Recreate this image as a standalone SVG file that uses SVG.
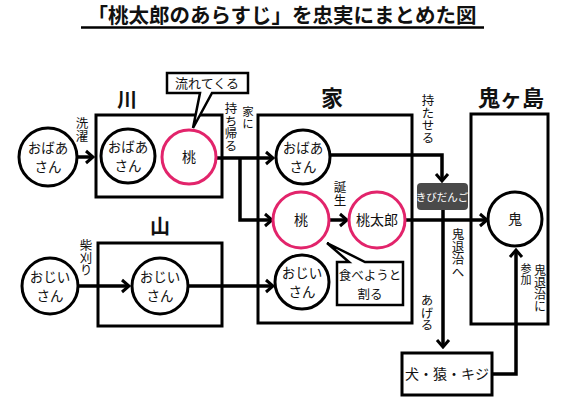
<svg xmlns="http://www.w3.org/2000/svg" width="581" height="415" viewBox="0 0 581 415">
<style>
text{font-family:"Noto Sans CJK JP","Noto Sans",sans-serif;fill:#111;text-anchor:middle}
.t{font-size:13px}
.v{font-size:12.5px;writing-mode:vertical-rl;text-anchor:start}
.c{font-size:14px}
.c2{font-size:13.5px}
.lb{font-size:20px;font-weight:700}
.box{fill:#fff;stroke:#000;stroke-width:3}
.circ{fill:#fff;stroke:#000;stroke-width:3}
.pink{fill:#fff;stroke:#e2246b;stroke-width:3}
.ln{fill:none;stroke:#000;stroke-width:3.5;stroke-linejoin:miter}
.arr{marker-end:url(#ah)}
</style>
<defs>
<marker id="ah" viewBox="-10 -8 12 16" refX="0" refY="0" markerWidth="12" markerHeight="16" markerUnits="userSpaceOnUse" orient="auto">
<path d="M-7,-6 L0,0 L-7,6" fill="none" stroke="#000" stroke-width="3"/>
</marker>
</defs>
<rect width="581" height="415" fill="#fff"/>

<g id="title">
<text x="282" y="23" style="font-size:20.5px;font-weight:700">「桃太郎のあらすじ」を忠実にまとめた図</text>
<line x1="81" y1="27.5" x2="484" y2="27.5" stroke="#000" stroke-width="2.5"/>
</g>

<g id="kawa">
<rect class="box" x="96" y="115" width="126" height="82"/>
<text class="lb" x="127" y="107">川</text>
</g>
<g id="yama">
<rect class="box" x="98" y="243" width="124" height="83"/>
<text class="lb" x="160" y="234">山</text>
</g>
<g id="ie">
<rect class="box" x="258" y="115" width="154" height="208"/>
<text class="lb" x="332" y="106" style="font-size:22px">家</text>
</g>
<g id="onigashima">
<rect class="box" x="471" y="114" width="77" height="210"/>
<text class="lb" x="511" y="106" style="font-size:22px">鬼ヶ島</text>
</g>

<g id="connectors">
<line class="ln arr" x1="78" y1="157" x2="93" y2="157"/>
<line class="ln arr" x1="78" y1="286" x2="129" y2="286"/>
<line class="ln arr" x1="216" y1="158" x2="273" y2="158"/>
<polyline class="ln arr" points="240,158 240,220 272,220"/>
<line class="ln arr" x1="188" y1="286" x2="273" y2="286"/>
<line class="ln arr" x1="329" y1="220" x2="347" y2="220"/>
<polyline class="ln arr" points="330,155 442,155 442,181"/>
<line class="ln arr" x1="405" y1="220" x2="487" y2="220"/>
<line class="ln arr" x1="443" y1="210" x2="443" y2="347"/>
<polyline class="ln arr" points="492,374 516,374 516,250"/>
</g>

<g id="labels">
<text class="v" x="82" y="117">洗濯</text>
<text class="v" x="231" y="102">持ち帰る</text>
<text class="v" x="248" y="106" style="font-size:11.5px">家に</text>
<text class="v" x="86" y="239">柴刈り</text>
<text class="v" x="428" y="94">持たせる</text>
<text class="v" x="340" y="181">誕生</text>
<text class="v" x="458" y="228">鬼退治へ</text>
<text class="v" x="427" y="294">あげる</text>
<text class="v" x="526" y="263" style="font-size:11px">参加</text>
<text class="v" x="540" y="264" style="font-size:12px">鬼退治に</text>
</g>

<g id="obaasan-start">
<circle class="circ" cx="48" cy="157" r="29"/>
<text class="c2" x="48" y="153">おばあ</text>
<text class="c2" x="48" y="172">さん</text>
</g>
<g id="obaasan-kawa">
<circle class="circ" cx="128" cy="156" r="27"/>
<text class="c2" x="128" y="152">おばあ</text>
<text class="c2" x="128" y="171">さん</text>
</g>
<g id="momo-kawa">
<circle class="pink" cx="189" cy="157" r="27"/>
<text class="c" x="189" y="162">桃</text>
</g>
<g id="bubble-nagarete">
<path d="M167,73 H248 V93 H212 L193,128 L200,93 H167 Z" fill="#fff" stroke="#000" stroke-width="2.5" stroke-linejoin="miter"/>
<text class="t" x="207" y="88">流れてくる</text>
</g>
<g id="ojiisan-start">
<circle class="circ" cx="50" cy="286" r="28"/>
<text class="c2" x="50" y="282">おじい</text>
<text class="c2" x="50" y="301">さん</text>
</g>
<g id="ojiisan-yama">
<circle class="circ" cx="160" cy="286" r="28"/>
<text class="c2" x="160" y="282">おじい</text>
<text class="c2" x="160" y="301">さん</text>
</g>
<g id="obaasan-ie">
<circle class="circ" cx="303" cy="157" r="27"/>
<text class="c2" x="303" y="153">おばあ</text>
<text class="c2" x="303" y="172">さん</text>
</g>
<g id="momo-ie">
<circle class="pink" cx="301" cy="220" r="28"/>
<text class="c" x="301" y="225">桃</text>
</g>
<g id="momotaro">
<circle class="pink" cx="377" cy="220" r="28"/>
<text class="c" x="377" y="225">桃太郎</text>
</g>
<g id="ojiisan-ie">
<circle class="circ" cx="302" cy="282" r="27"/>
<text class="c2" x="302" y="278">おじい</text>
<text class="c2" x="302" y="297">さん</text>
</g>
<g id="bubble-taberu">
<path d="M337,262 H349 L327,243 L365,262 H403 V305 H337 Z" fill="#fff" stroke="#000" stroke-width="2.5" stroke-linejoin="miter"/>
<text x="370" y="280" style="font-size:12.5px">食べようと</text>
<text x="370" y="299" style="font-size:12.5px">割る</text>
</g>
<g id="kibidango">
<rect x="417" y="183" width="51" height="27" rx="4" fill="#4a4a4a"/>
<text x="442" y="201" style="font-size:10.5px;fill:#fff">きびだんご</text>
</g>
<g id="oni">
<circle class="circ" cx="515" cy="219" r="27"/>
<text class="c" x="515" y="224">鬼</text>
</g>
<g id="otomo">
<rect class="box" x="402" y="353" width="90" height="42"/>
<text class="c" x="447" y="379">犬・猿・キジ</text>
</g>
</svg>
